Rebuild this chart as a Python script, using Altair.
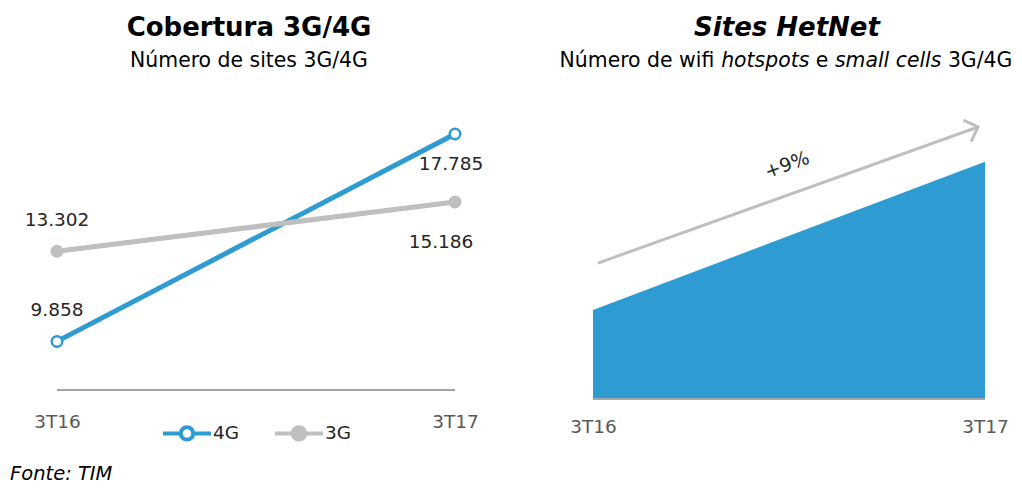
import altair as alt
import pandas as pd

# ---------------- data ----------------
periods = ["3T16", "3T17"]
series_names = ["4G", "3G"]
sites_4g = [9858, 17785]
sites_3g = [13302, 15186]
hetnet_index = [100, 109]          # relative level, chart shows +9 %
growth_label = ["+9%"]

left_title = ["Cobertura 3G/4G"]
left_subtitle = ["Número de sites 3G/4G"]
right_title = ["Sites HetNet"]
right_sub_parts = ["Número de wifi", "hotspots", "e", "small cells", "3G/4G"]
right_sub_italic = [False, True, False, True, False]
source_note = ["Fonte: TIM"]

BLUE = "#2E9BD3"
GRAY = "#BFBFBF"
BASE = "#A6A6A6"
TXT = "#262626"
FONT = "DejaVu Sans, Verdana, sans-serif"

W1, H1 = 496, 382
W2, H2 = 446, 391

cov = pd.DataFrame({
    "period": periods * 2,
    "series": [series_names[0]] * 2 + [series_names[1]] * 2,
    "value": sites_4g + sites_3g,
})

# ---------------- left panel ----------------
xs1 = alt.Scale(type="point", domain=periods, padding=0.1231)
ys1 = alt.Scale(domain=[8000, 22600], nice=False, zero=False)
xax1 = alt.Axis(title=None, domain=False, ticks=False, labelAngle=0, labelPadding=22,
                labelFontSize=18.5, labelFont=FONT, labelColor="#595959", grid=False)

sym_path = "M-1,0H-0.26M0.26,0H1M-0.26,0A0.26,0.26 0 1,0 0.26,0A0.26,0.26 0 1,0 -0.26,0Z"
leg = alt.Legend(title=None, orient="none", legendX=153, legendY=399, direction="horizontal",
                 symbolType=sym_path, symbolSize=2304, symbolStrokeWidth=4, symbolOpacity=1,
                 labelFontSize=18.5, labelFont=FONT, labelColor=TXT, labelOffset=0,
                 columnPadding=27, padding=0)

stroke_enc = alt.Stroke("series:N", scale=alt.Scale(domain=series_names, range=[BLUE, GRAY]), legend=leg)
fill_enc = alt.Fill("series:N", scale=alt.Scale(domain=series_names, range=["white", GRAY]), legend=leg)

base1 = alt.Chart(cov).encode(
    x=alt.X("period:O", scale=xs1, axis=xax1),
    y=alt.Y("value:Q", scale=ys1, axis=None),
)

lines = base1.mark_line(strokeWidth=5).encode(stroke=stroke_enc, detail="series:N")
points = base1.mark_point(filled=True, size=110, strokeWidth=2.5, opacity=1).encode(
    stroke=stroke_enc, fill=fill_enc)

lab = base1.transform_calculate(
    label="replace(format(datum.value, ','), ',', '.')"
)
lab_start = lab.transform_filter(alt.datum.period == periods[0]).mark_text(
    dy=-31, fontSize=18.5, font=FONT, color=TXT).encode(text="label:N")
lab_end4 = lab.transform_filter((alt.datum.period == periods[1]) & (alt.datum.series == "4G")).mark_text(
    dy=30, dx=-4, fontSize=18.5, font=FONT, color=TXT).encode(text="label:N")
lab_end3 = lab.transform_filter((alt.datum.period == periods[1]) & (alt.datum.series == "3G")).mark_text(
    dy=40, dx=-14, fontSize=18.5, font=FONT, color=TXT).encode(text="label:N")

base_rule1 = alt.Chart(pd.DataFrame({"a": [periods[0]], "b": [periods[1]], "y0": [8000]})).mark_rule(
    color=BASE, strokeWidth=2).encode(
    x=alt.X("a:O", scale=xs1, axis=xax1), x2="b", y=alt.Y("y0:Q", scale=ys1, axis=None))

t1 = alt.Chart(pd.DataFrame({"t": left_title})).mark_text(
    fontSize=26, fontWeight="bold", font=FONT, color="black", align="center", baseline="middle"
).encode(text="t:N", x=alt.value(241), y=alt.value(20))
s1 = alt.Chart(pd.DataFrame({"t": left_subtitle})).mark_text(
    fontSize=20.4, font=FONT, color="black", align="center", baseline="middle"
).encode(text="t:N", x=alt.value(241), y=alt.value(53))
note = alt.Chart(pd.DataFrame({"t": source_note})).mark_text(
    fontSize=19.5, fontStyle="italic", font=FONT, color="black", align="left", baseline="bottom"
).encode(text="t:N", x=alt.value(2), y=alt.value(476))

left = alt.layer(base_rule1, lines, points, lab_start, lab_end4, lab_end3, t1, s1, note).properties(
    width=W1, height=H1)

# ---------------- right panel ----------------
het = pd.DataFrame({"period": periods, "value": hetnet_index, "y0": [94.6, 94.6]})
xs2 = alt.Scale(type="point", domain=periods, padding=0.0689)
ys2 = alt.Scale(domain=[94.6, 118.33], nice=False, zero=False)
xax2 = alt.Axis(title=None, domain=False, ticks=False, labelAngle=0, labelPadding=18,
                labelFontSize=18.5, labelFont=FONT, labelColor="#595959", grid=False)

area = alt.Chart(het).mark_area(color=BLUE, opacity=1).encode(
    x=alt.X("period:O", scale=xs2, axis=xax2),
    y=alt.Y("value:Q", scale=ys2, axis=None),
    y2="y0",
)
base_rule2 = alt.Chart(pd.DataFrame({"a": [periods[0]], "b": [periods[1]], "y0": [94.6]})).mark_rule(
    color=BASE, strokeWidth=2).encode(
    x=alt.X("a:O", scale=xs2, axis=xax2), x2="b", y=alt.Y("y0:Q", scale=ys2, axis=None))

arrow_df = pd.DataFrame({"a": [periods[0]], "b": [periods[1]], "ya": [102.85], "yb": [111.11]})
arrow = alt.Chart(arrow_df).mark_rule(color=GRAY, strokeWidth=3, xOffset=5, x2Offset=-7).encode(
    x=alt.X("a:O", scale=xs2, axis=xax2), x2="b",
    y=alt.Y("ya:Q", scale=ys2, axis=None), y2="yb")
head = alt.Chart(arrow_df).mark_point(
    shape="M-1,-1L0,0L-1,1", size=520, filled=False, stroke=GRAY, strokeWidth=3,
    opacity=1, angle=340, xOffset=-7).encode(
    x=alt.X("b:O", scale=xs2, axis=xax2), y=alt.Y("yb:Q", scale=ys2, axis=None))
growth = alt.Chart(pd.DataFrame({"t": growth_label})).mark_text(
    fontSize=19, font=FONT, color=TXT, angle=340, align="center", baseline="middle"
).encode(text="t:N", x=alt.value(221), y=alt.value(157))

t2 = alt.Chart(pd.DataFrame({"t": right_title})).mark_text(
    fontSize=26, fontWeight="bold", fontStyle="italic", font=FONT, color="black",
    align="center", baseline="middle"
).encode(text="t:N", x=alt.value(221), y=alt.value(20))

sub_x = [-6.4, 155.2, 249.8, 268.9, 381.9]
sub_layers = []
for part, ital, xx in zip(right_sub_parts, right_sub_italic, sub_x):
    sub_layers.append(
        alt.Chart(pd.DataFrame({"t": [part]})).mark_text(
            fontSize=20.4, font=FONT, color="black", align="left", baseline="middle",
            fontStyle="italic" if ital else "normal"
        ).encode(text="t:N", x=alt.value(xx), y=alt.value(53))
    )

right = alt.layer(area, base_rule2, arrow, head, growth, t2, *sub_layers).properties(
    width=W2, height=H2)

chart = alt.hconcat(left, right, spacing=62, bounds="flush", padding=0).configure_view(
    stroke=None
)

chart.save("out.html", embed_options={"renderer": "svg", "actions": False})
